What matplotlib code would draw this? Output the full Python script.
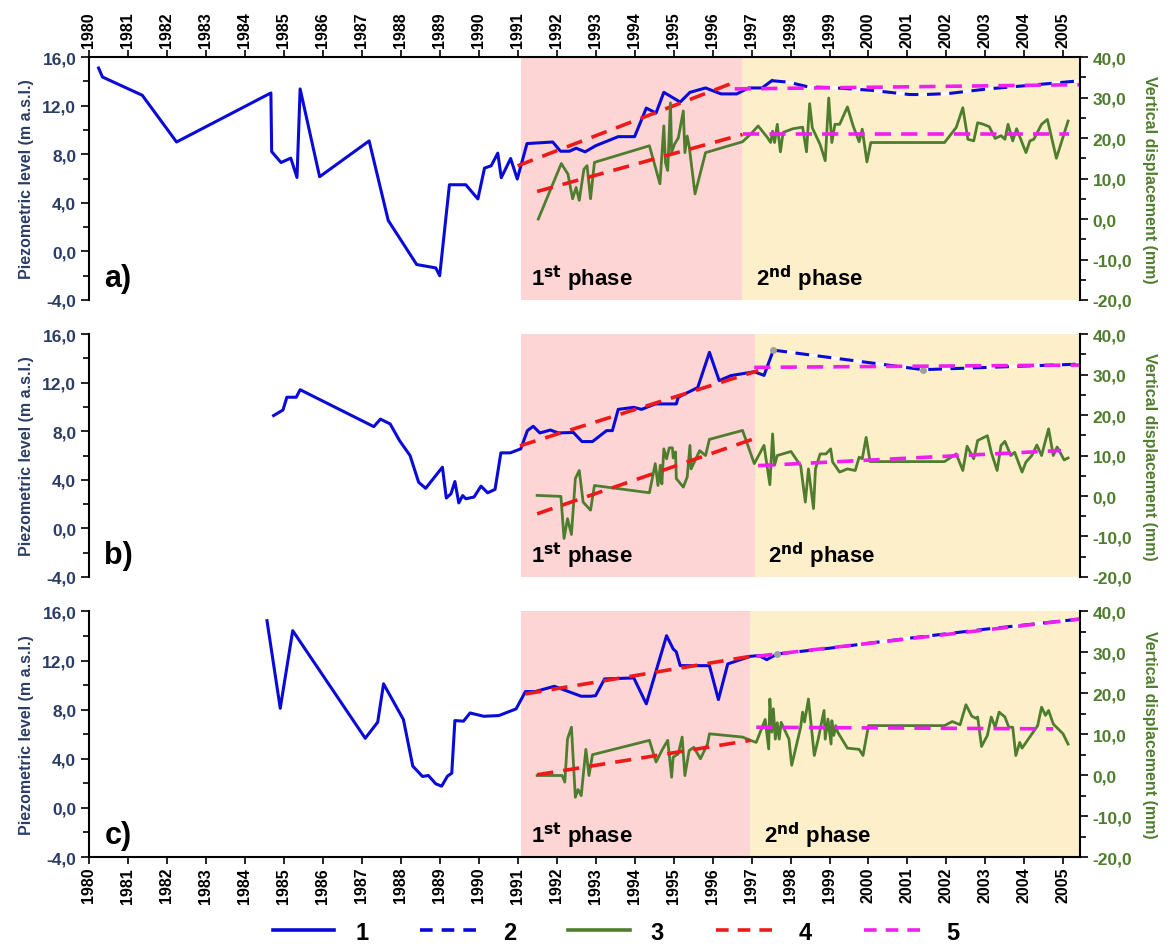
# -*- coding: utf-8 -*-
import matplotlib
matplotlib.use("Agg")
import matplotlib.pyplot as plt
from matplotlib.ticker import FuncFormatter, MultipleLocator
from matplotlib.lines import Line2D

plt.rcParams['font.family'] = ['Liberation Sans', 'DejaVu Sans']
plt.rcParams['font.weight'] = 'bold'

## ---------------- panel a ----------------
a_piezo_x = [1980.25, 1980.35, 1981.37, 1982.25, 1984.67, 1984.69, 1984.93, 1985.18, 1985.34,
             1985.42, 1985.92, 1987.19, 1987.68, 1988.41, 1988.90, 1989.0, 1989.25, 1989.67,
             1989.98, 1990.15, 1990.32, 1990.49, 1990.58, 1990.82, 1990.99, 1991.24, 1991.90,
             1992.10, 1992.33, 1992.5, 1992.73, 1993.0, 1993.58, 1994.0, 1994.3, 1994.55,
             1994.75, 1995.17, 1995.42, 1995.82, 1996.22, 1996.62, 1996.92, 1997.27, 1997.52]
a_piezo_y = [15.1, 14.36, 12.86, 9.01, 13.05, 8.22, 7.32, 7.68, 6.09,
             13.38, 6.15, 9.10, 2.55, -1.08, -1.36, -2.0, 5.49, 5.49,
             4.32, 6.86, 7.05, 8.09, 6.07, 7.65, 5.96, 8.88, 9.01,
             8.25, 8.25, 8.5, 8.2, 8.7, 9.45, 9.45, 11.8, 11.4,
             13.1, 12.3, 13.1, 13.46, 12.97, 12.97, 13.46, 13.46, 14.06]
a_est_x = [1997.52, 1997.96, 1998.46, 1999.0, 2000.06, 2001.05, 2001.45, 2002.05, 2003.05, 2004.04, 2005.44]
a_est_y = [14.06, 13.93, 13.54, 13.5, 13.27, 12.92, 12.92, 13.0, 13.38, 13.65, 14.06]
a_disp_x = [1991.53, 1992.12, 1992.29, 1992.41, 1992.5, 1992.58, 1992.7, 1992.78, 1992.87, 1992.97,
            1994.38, 1994.65, 1994.75, 1994.79, 1994.85, 1994.92, 1994.95, 1995.03, 1995.12,
            1995.25, 1995.29, 1995.35, 1995.4, 1995.55, 1995.82, 1996.77, 1996.97, 1997.17,
            1997.41, 1997.49, 1997.54, 1997.59, 1997.66, 1997.74, 1997.81, 1998.06, 1998.31,
            1998.41, 1998.49, 1998.56, 1998.76, 1998.89, 1998.98, 1999.06, 1999.14, 1999.26,
            1999.46, 1999.61, 1999.76, 1999.84, 1999.96, 2000.06, 2001.95, 2002.25, 2002.42,
            2002.55, 2002.7, 2002.8, 2002.95, 2003.1, 2003.25, 2003.4, 2003.5, 2003.58,
            2003.7, 2003.8, 2004.04, 2004.14, 2004.24, 2004.44, 2004.59, 2004.82, 2005.12]
a_disp_y = [0.0, 13.7, 11.1, 5.0, 7.8, 4.6, 12.3, 13.2, 5.0, 14.0,
            18.1, 8.7, 23.0, 14.0, 12.0, 28.7, 16.5, 18.6, 20.0,
            26.7, 16.4, 20.5, 18.0, 6.2, 16.4, 19.1, 20.9, 23.0,
            20.1, 18.9, 21.7, 18.9, 23.4, 16.6, 21.4, 22.3, 22.7,
            16.6, 28.5, 22.5, 18.4, 14.4, 29.9, 18.9, 23.4, 23.4,
            27.7, 22.9, 19.1, 22.2, 14.1, 18.9, 18.9, 22.6, 27.5,
            19.7, 19.3, 23.8, 23.4, 22.8, 19.9, 20.6, 19.7, 23.4,
            19.3, 22.3, 16.4, 19.3, 19.7, 23.4, 24.6, 15.0, 24.2]
a_trend_up_x = [1991.0, 1996.67]
a_trend_up_y = [7.05, 14.06]
a_trend_lo_x = [1991.5, 1996.77]
a_trend_lo_y = [6.8, 20.9]
a_flat_up_x = [1996.57, 2005.44]
a_flat_up_y = [13.38, 13.73]
a_flat_lo_x = [1996.77, 2005.14]
a_flat_lo_y = [21.1, 21.1]
a_phase = [1991.08, 1996.76]
a_marks_x = []
a_marks_y = []

## ---------------- panel b ----------------
b_piezo_x = [1984.74, 1984.98, 1985.08, 1985.32, 1985.42, 1987.31, 1987.48, 1987.73, 1987.97,
             1988.24, 1988.46, 1988.64, 1989.07, 1989.17, 1989.29, 1989.39, 1989.49, 1989.59,
             1989.67, 1989.88, 1990.06, 1990.23, 1990.42, 1990.57, 1990.81, 1991.08, 1991.25,
             1991.4, 1991.57, 1991.84, 1992.04, 1992.43, 1992.65, 1992.92, 1993.28, 1993.43,
             1993.58, 1993.98, 1994.18, 1994.53, 1995.07, 1995.12, 1995.62, 1995.92, 1996.17,
             1996.47, 1997.07, 1997.32, 1997.56]
b_piezo_y = [9.29, 9.75, 10.8, 10.8, 11.42, 8.38, 9.0, 8.6, 7.23,
             6.0, 3.8, 3.3, 5.04, 2.5, 2.85, 3.86, 2.1, 2.7,
             2.44, 2.58, 3.48, 2.93, 3.21, 6.22, 6.22, 6.55, 8.05,
             8.41, 7.86, 8.1, 7.86, 7.9, 7.15, 7.15, 8.05, 8.05,
             9.8, 9.97, 9.8, 10.25, 10.25, 10.8, 11.6, 14.5, 12.17,
             12.58, 12.9, 12.6, 14.68]
b_est_x = [1997.56, 2001.4, 2005.44]
b_est_y = [14.68, 13.07, 13.53]
b_disp_x = [1991.5, 1992.11, 1992.19, 1992.28, 1992.38, 1992.48, 1992.58, 1992.68, 1992.87, 1992.97,
            1994.38, 1994.53, 1994.6, 1994.66, 1994.7, 1994.75, 1994.82, 1994.89, 1994.97,
            1994.99, 1995.05, 1995.07, 1995.25, 1995.35, 1995.42, 1995.45, 1995.57, 1995.67,
            1995.82, 1995.92, 1996.77, 1997.07, 1997.32, 1997.47, 1997.54, 1997.59, 1997.66,
            1998.01, 1998.26, 1998.38, 1998.46, 1998.59, 1998.64, 1998.76, 1998.91, 1999.03,
            1999.08, 1999.26, 1999.46, 1999.66, 1999.76, 1999.84, 1999.94, 2000.04, 2001.95,
            2002.25, 2002.42, 2002.53, 2002.7, 2002.8, 2003.05, 2003.15, 2003.3, 2003.4,
            2003.5, 2003.65, 2003.75, 2003.94, 2004.04, 2004.19, 2004.32, 2004.44, 2004.62,
            2004.74, 2004.84, 2005.02, 2005.12]
b_disp_y = [0.15, -0.1, -10.5, -5.6, -9.5, 4.3, 6.3, -1.5, -3.5, 2.6,
            0.8, 8.0, 2.6, 7.6, 3.0, 11.65, 9.2, 11.9, 11.9, 9.4, 10.9, 4.3, 2.2, 4.7,
            12.5, 6.7, 9.2, 11.2, 10.0, 14.0, 16.2, 8.0, 12.5, 2.8, 15.35, 7.6,
            10.0, 11.0, 7.5, -1.5, 6.7, -3.1, 6.7, 10.4, 10.4, 11.65, 8.4, 5.9, 6.7,
            6.3, 9.6, 9.2, 14.5, 8.5, 8.5, 10.4, 6.3, 12.3, 9.2, 13.7, 14.9, 10.8,
            6.3, 12.5, 13.5, 10.0, 10.8, 5.9, 8.4, 10.0, 12.6, 10.0, 16.6, 10.0,
            12.1, 8.9, 9.4]
b_trend_up_x = [1991.06, 1997.17]
b_trend_up_y = [6.8, 12.99]
b_trend_lo_x = [1991.5, 1997.17]
b_trend_lo_y = [-4.4, 14.5]
b_flat_up_x = [1997.07, 2005.44]
b_flat_up_y = [13.26, 13.45]
b_flat_lo_x = [1997.17, 2004.94]
b_flat_lo_y = [7.5, 11.24]
b_phase = [1991.08, 1997.08]
b_marks_x = [1997.56, 2001.4]
b_marks_y = [14.68, 13.07]

## ---------------- panel c ----------------
c_piezo_x = [1984.57, 1984.91, 1985.23, 1987.09, 1987.41, 1987.56, 1988.07, 1988.31, 1988.56,
             1988.71, 1988.9, 1989.05, 1989.2, 1989.31, 1989.39, 1989.61, 1989.78, 1990.13,
             1990.52, 1990.96, 1991.2, 1991.45, 1991.94, 1992.63, 1992.87, 1993.0, 1993.23,
             1993.98, 1994.3, 1994.82, 1994.99, 1995.07, 1995.17, 1995.92, 1996.15, 1996.39,
             1996.97, 1997.19, 1997.39, 1997.66]
c_piezo_y = [15.24, 8.11, 14.43, 5.67, 6.98, 10.1, 7.19, 3.4, 2.56,
             2.64, 1.96, 1.77, 2.59, 2.83, 7.11, 7.06, 7.73, 7.46,
             7.52, 8.06, 9.47, 9.47, 9.9, 9.09, 9.09, 9.14, 10.5,
             10.58, 8.47, 14.02, 12.94, 12.7, 11.58, 11.58, 8.82, 11.72,
             12.34, 12.4, 12.07, 12.53]
c_est_x = [1997.66, 1999.0, 2001.0, 2003.0, 2005.44]
c_est_y = [12.53, 13.0, 13.8, 14.55, 15.38]
c_disp_x = [1991.5, 1992.14, 1992.21, 1992.28, 1992.38, 1992.48, 1992.55, 1992.63, 1992.75,
            1992.83, 1992.92, 1994.38, 1994.55, 1994.72, 1994.85, 1994.95, 1994.99, 1995.12,
            1995.22, 1995.29, 1995.4, 1995.52, 1995.69, 1995.87, 1995.92, 1996.77, 1996.97,
            1997.12, 1997.35, 1997.44, 1997.47, 1997.52, 1997.56, 1997.61, 1997.66, 1997.71,
            1997.76, 1997.96, 1998.03, 1998.26, 1998.31, 1998.36, 1998.46, 1998.61, 1998.71,
            1998.86, 1998.89, 1998.96, 1999.04, 1999.06, 1999.11, 1999.16, 1999.21, 1999.46,
            1999.76, 1999.86, 2000.0, 2001.95, 2002.15, 2002.35, 2002.5, 2002.65, 2002.75,
            2002.8, 2002.9, 2003.05, 2003.15, 2003.25, 2003.35, 2003.5, 2003.6, 2003.7,
            2003.78, 2003.88, 2003.94, 2004.34, 2004.44, 2004.54, 2004.62, 2004.74, 2004.99,
            2005.12]
c_disp_y = [-0.08, -0.08, -1.7, 8.9, 11.7, -5.4, -3.5, -5.0, 6.3,
            -0.1, 5.0, 8.5, 3.2, 6.4, 8.5, -0.5, 4.4, 5.2,
            9.3, -0.1, 6.0, 6.8, 4.0, 7.6, 10.1, 9.3, 8.5,
            8.0, 13.6, 6.4, 18.6, 10.5, 16.2, 8.8, 12.8, 8.8,
            12.9, 8.8, 2.4, 11.7, 15.4, 13.0, 18.6, 4.8, 8.8,
            15.8, 8.8, 13.7, 7.6, 13.3, 9.7, 12.1, 10.5, 6.6,
            6.3, 4.8, 12.1, 12.1, 13.1, 12.3, 17.2, 14.4, 13.9,
            14.2, 7.0, 9.7, 14.2, 11.7, 15.4, 14.2, 11.7, 11.7,
            4.8, 8.0, 6.6, 12.1, 16.6, 14.6, 15.8, 12.5, 10.1,
            7.6]
c_trend_up_x = [1991.2, 1996.97]
c_trend_up_y = [9.28, 12.34]
c_trend_lo_x = [1991.5, 1996.97]
c_trend_lo_y = [0.1, 8.5]
c_flat_up_x = [1997.12, 2005.44]
c_flat_up_y = [12.34, 15.38]
c_flat_lo_x = [1997.12, 2004.74]
c_flat_lo_y = [11.7, 11.3]
c_phase = [1991.08, 1996.96]
c_marks_x = [1997.66]
c_marks_y = [12.53]

years = list(range(1980, 2006))
legend_labels = ["1", "2", "3", "4", "5"]

BLUE = '#0a0ad8'
GREEN = '#4f7d2e'
RED = '#ee1a1a'
MAGENTA = '#f01ef0'
NAVY = '#2b3d66'
PINK = '#fdd5d5'
BEIGE = '#fdefca'

comma = FuncFormatter(lambda v, p: ("%.1f" % v).replace('.', ','))

fig = plt.figure(figsize=(11.69, 9.45), dpi=100)
L, W = 0.076, 0.848
boxes = [(0.6815, 0.257), (0.3884, 0.257), (0.092, 0.260)]

panels = [
    ("a)", a_piezo_x, a_piezo_y, a_est_x, a_est_y, a_disp_x, a_disp_y, a_trend_up_x, a_trend_up_y,
     a_trend_lo_x, a_trend_lo_y, a_flat_up_x, a_flat_up_y, a_flat_lo_x, a_flat_lo_y, a_phase,
     a_marks_x, a_marks_y),
    ("b)", b_piezo_x, b_piezo_y, b_est_x, b_est_y, b_disp_x, b_disp_y, b_trend_up_x, b_trend_up_y,
     b_trend_lo_x, b_trend_lo_y, b_flat_up_x, b_flat_up_y, b_flat_lo_x, b_flat_lo_y, b_phase,
     b_marks_x, b_marks_y),
    ("c)", c_piezo_x, c_piezo_y, c_est_x, c_est_y, c_disp_x, c_disp_y, c_trend_up_x, c_trend_up_y,
     c_trend_lo_x, c_trend_lo_y, c_flat_up_x, c_flat_up_y, c_flat_lo_x, c_flat_lo_y, c_phase,
     c_marks_x, c_marks_y),
]

dash = (4.5, 2.8)
for i, (lab, px, py, ex, ey, dx, dy, tux, tuy, tlx, tly, fux, fuy, flx, fly, ph, mx, my) in enumerate(panels):
    y0, h = boxes[i]
    ax = fig.add_axes([L, y0, W, h])
    ax2 = ax.twinx()
    ax.set_zorder(2)
    ax2.set_zorder(3)
    ax.patch.set_visible(False)

    ax.axvspan(ph[0], ph[1], color=PINK, lw=0, zorder=0)
    ax.axvspan(ph[1], 2005.43, color=BEIGE, lw=0, zorder=0)

    ax.plot(px, py, color=BLUE, lw=2.2, zorder=3)
    ax.plot(ex, ey, color=BLUE, lw=2.2, ls=(0, dash), gapcolor='white', zorder=3)
    if mx:
        ax.plot(mx, my, ls='none', marker='o', ms=4, color='#a0a0a0', zorder=4)
    ax.plot(tux, tuy, color=RED, lw=2.6, ls=(0, dash), zorder=4)
    ax.plot(fux, fuy, color=MAGENTA, lw=2.6, ls=(0, dash), zorder=4)

    ax2.plot(dx, dy, color=GREEN, lw=2.0)
    ax2.plot(tlx, tly, color=RED, lw=2.6, ls=(0, dash))
    ax2.plot(flx, fly, color=MAGENTA, lw=2.6, ls=(0, dash))

    ax.set_xlim(1980, 2005.43)
    ax.set_ylim(-4, 16)
    ax2.set_ylim(-20, 40)
    ax.yaxis.set_major_locator(MultipleLocator(4))
    ax.yaxis.set_minor_locator(MultipleLocator(2))
    ax2.yaxis.set_major_locator(MultipleLocator(10))
    ax2.yaxis.set_minor_locator(MultipleLocator(5))
    ax.yaxis.set_major_formatter(comma)
    ax2.yaxis.set_major_formatter(comma)
    ax.set_xticks(years)
    ax.set_xticklabels([str(y) for y in years], rotation=90, fontsize=11.5, fontweight='bold')

    for s in ['top', 'bottom', 'right']:
        ax.spines[s].set_visible(False)
    for s in ['top', 'bottom', 'left']:
        ax2.spines[s].set_visible(False)
    ax.spines['left'].set_linewidth(1.5)
    ax2.spines['right'].set_linewidth(1.5)

    if i == 0:
        ax.spines['top'].set_visible(True)
        ax.spines['top'].set_linewidth(1.5)
        ax.xaxis.tick_top()
        ax.tick_params(axis='x', which='both', top=True, bottom=False, labeltop=True, labelbottom=False,
                       direction='out', length=5, width=1.2, pad=2)
    elif i == 2:
        ax.spines['bottom'].set_visible(True)
        ax.spines['bottom'].set_linewidth(1.5)
        ax.tick_params(axis='x', direction='out', length=5, width=1.2, pad=2)
    else:
        ax.tick_params(axis='x', bottom=False, labelbottom=False)

    ax.tick_params(axis='y', which='major', direction='out', length=6, width=1.2,
                   labelcolor=NAVY, labelsize=12.5, pad=3)
    ax.tick_params(axis='y', which='minor', direction='out', length=4, width=1.2)
    ax2.tick_params(axis='y', which='major', direction='out', length=6, width=1.2,
                    labelcolor=GREEN, labelsize=12.5, pad=3)
    ax2.tick_params(axis='y', which='minor', direction='out', length=4, width=1.2)
    for t in ax.get_yticklabels() + ax2.get_yticklabels():
        t.set_fontweight('bold')

    ax.set_ylabel("Piezometric level (m a.s.l.)", color=NAVY, fontsize=11.5, fontweight='bold', labelpad=6)
    ax2.set_ylabel("Vertical displacement (mm)", color=GREEN, fontsize=11.5, fontweight='bold',
                   rotation=270, labelpad=18)

    ax.text(1980.4, -3.4, lab, fontsize=22, fontweight='bold', ha='left', va='bottom', zorder=5)
    ax.text(ph[0] + 0.25, -3.4, r"1$^{\mathbf{st}}$ phase", fontsize=16, fontweight='bold',
            ha='left', va='bottom', zorder=5)
    ax.text(ph[1] + 0.35, -3.4, r"2$^{\mathbf{nd}}$ phase", fontsize=16, fontweight='bold',
            ha='left', va='bottom', zorder=5)

handles = [
    Line2D([], [], color=BLUE, lw=2.6),
    Line2D([], [], color=BLUE, lw=2.6, ls=(0, (3.5, 2.5))),
    Line2D([], [], color=GREEN, lw=2.6),
    Line2D([], [], color=RED, lw=2.6, ls=(0, (3.5, 2.5))),
    Line2D([], [], color=MAGENTA, lw=2.6, ls=(0, (3.5, 2.5))),
]
fig.legend(handles, legend_labels, loc='lower center', bbox_to_anchor=(0.527, -0.022), ncol=5,
           frameon=False, handlelength=2.6, handletextpad=0.9, columnspacing=2.2,
           prop={'size': 17, 'weight': 'bold'})

fig.savefig("out.png", dpi=100)
